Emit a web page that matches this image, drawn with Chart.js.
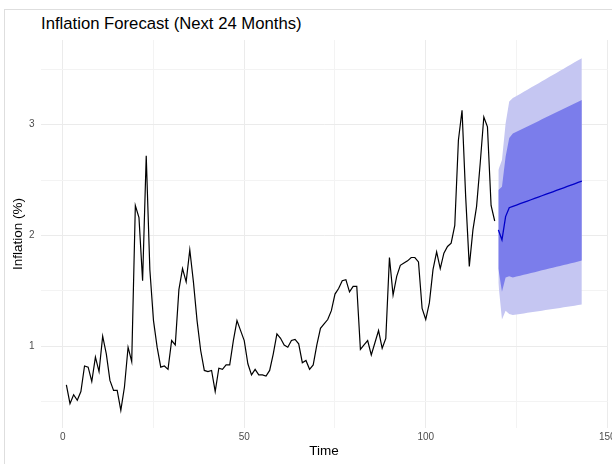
<!DOCTYPE html>
<html>
<head>
<meta charset="utf-8">
<script src="https://cdn.jsdelivr.net/npm/chart.js@4/dist/chart.umd.min.js"></script>
<style>
  html, body { margin: 0; padding: 0; background: #ffffff; }
  #wrap { position: relative; width: 612px; height: 464px; overflow: hidden; }
  #frame { position: absolute; left: 4px; top: 9px; right: -2px; bottom: -2px;
           border-top: 1px solid #dedede; border-left: 1px solid #dedede; }
  #title { position: absolute; left: 41px; top: 16px; font-family: "Liberation Sans", Arial, sans-serif;
           font-size: 16.7px; line-height: 1; color: #000; white-space: nowrap; }
  canvas { position: absolute; left: 0; top: 0; }
</style>
</head>
<body>
<div id="wrap">
  <div id="frame"></div>
  <div id="title">Inflation Forecast (Next 24 Months)</div>
  <canvas id="c" width="612" height="464"></canvas>
</div>
<script>
// ---- data ----
const historyStart = 1;
const historyValues = [
  0.65, 0.48, 0.56, 0.51, 0.59, 0.82, 0.81, 0.68, 0.90, 0.77,
  1.09, 0.93, 0.69, 0.60, 0.60, 0.42, 0.63, 0.99, 0.86, 2.27,
  2.16, 1.59, 2.72, 1.69, 1.23, 0.99, 0.81, 0.82, 0.79, 1.05,
  1.01, 1.51, 1.70, 1.58, 1.87, 1.58, 1.23, 0.96, 0.78, 0.77,
  0.78, 0.59, 0.80, 0.79, 0.83, 0.83, 1.05, 1.23, 1.14, 1.05,
  0.84, 0.74, 0.79, 0.74, 0.74, 0.73, 0.78, 0.93, 1.11, 1.07,
  1.01, 0.99, 1.05, 1.06, 1.02, 0.85, 0.87, 0.79, 0.83, 1.01,
  1.16, 1.20, 1.24, 1.32, 1.47, 1.52, 1.59, 1.60, 1.49, 1.54,
  1.54, 0.97, 1.01, 1.05, 0.92, 1.03, 1.14, 0.98, 1.07, 1.80,
  1.46, 1.63, 1.73, 1.75, 1.77, 1.80, 1.80, 1.76, 1.34, 1.24,
  1.39, 1.69, 1.85, 1.70, 1.84, 1.90, 1.93, 2.09, 2.86, 3.13,
  2.35, 1.72, 2.05, 2.26, 2.65, 3.07, 2.98, 2.27, 2.13
];
const forecastStart = 120;
const forecastMean = [
  2.050, 1.960, 2.170, 2.250, 2.262, 2.274, 2.286, 2.298, 2.310, 2.322,
  2.334, 2.346, 2.358, 2.370, 2.382, 2.394, 2.406, 2.418, 2.430, 2.442,
  2.454, 2.466, 2.478, 2.490
];
const lower80 = [
  1.700, 1.490, 1.620, 1.630, 1.620, 1.628, 1.636, 1.644, 1.652, 1.660,
  1.668, 1.676, 1.684, 1.692, 1.700, 1.708, 1.716, 1.724, 1.732, 1.740,
  1.748, 1.756, 1.764, 1.772
];
const upper80 = [
  2.410, 2.440, 2.710, 2.880, 2.920, 2.936, 2.952, 2.968, 2.984, 3.000,
  3.016, 3.032, 3.048, 3.064, 3.080, 3.096, 3.112, 3.128, 3.144, 3.160,
  3.176, 3.192, 3.208, 3.224
];
const lower95 = [
  1.570, 1.240, 1.320, 1.290, 1.280, 1.285, 1.290, 1.295, 1.300, 1.305,
  1.310, 1.315, 1.320, 1.325, 1.330, 1.335, 1.340, 1.345, 1.350, 1.355,
  1.360, 1.365, 1.370, 1.375
];
const upper95 = [
  2.590, 2.680, 3.010, 3.210, 3.240, 3.259, 3.278, 3.297, 3.316, 3.335,
  3.354, 3.373, 3.392, 3.411, 3.430, 3.449, 3.468, 3.487, 3.506, 3.525,
  3.544, 3.563, 3.582, 3.600
];
const xTickLabels = [0, 50, 100, 150];
const yTickLabels = [1, 2, 3];

// ---- build points ----
const pts = (arr, start) => arr.map((v, i) => ({ x: start + i, y: v }));

const fontFam = '"Liberation Sans", Arial, sans-serif';
const LIGHT = '#c5c6f2';
const DARK = '#7b7deb';

new Chart(document.getElementById('c'), {
  type: 'line',
  data: {
    datasets: [
      { data: pts(lower95, forecastStart), borderWidth: 0, pointRadius: 0, fill: false, order: 6, tension: 0 },
      { data: pts(upper95, forecastStart), borderWidth: 0, pointRadius: 0, fill: 0, backgroundColor: LIGHT, order: 5, tension: 0 },
      { data: pts(lower80, forecastStart), borderWidth: 0, pointRadius: 0, fill: false, order: 4, tension: 0 },
      { data: pts(upper80, forecastStart), borderWidth: 0, pointRadius: 0, fill: 2, backgroundColor: DARK, order: 3, tension: 0 },
      { data: pts(forecastMean, forecastStart), borderColor: '#0000c8', borderWidth: 1.3, pointRadius: 0, fill: false, order: 2, tension: 0 },
      { data: pts(historyValues, historyStart), borderColor: '#000000', borderWidth: 1.2, pointRadius: 0, fill: false, order: 1, tension: 0 }
    ]
  },
  options: {
    responsive: false,
    animation: false,
    devicePixelRatio: 1,
    layout: { padding: { top: 40, left: 0, right: 4.4, bottom: 0 } },
    plugins: { legend: { display: false }, tooltip: { enabled: false }, title: { display: false } },
    scales: {
      x: {
        type: 'linear',
        min: -6.1, max: 150.1,
        border: { display: false },
        grid: {
          drawTicks: false,
          color: (c) => (xTickLabels.includes(c.tick.value) ? '#ebebeb' : '#f3f3f3'),
          lineWidth: 1
        },
        ticks: {
          stepSize: 25, includeBounds: false, autoSkip: false, maxRotation: 0,
          padding: 3.5,
          color: '#4d4d4d',
          font: { family: fontFam, size: 10 },
          callback: (v) => (xTickLabels.includes(v) ? String(v) : '')
        },
        title: { display: true, text: 'Time', color: '#000', font: { family: fontFam, size: 13.5 }, padding: { top: 0, bottom: 4.4 } },
        afterFit: (s) => { s.height = 36; s.paddingLeft = 0; s.paddingRight = 0; }
      },
      y: {
        type: 'linear',
        min: 0.26, max: 3.765,
        border: { display: false },
        grid: {
          drawTicks: false,
          color: (c) => (yTickLabels.includes(c.tick.value) ? '#ebebeb' : '#f3f3f3'),
          lineWidth: 1
        },
        ticks: {
          stepSize: 0.5, includeBounds: false, autoSkip: false,
          padding: 6,
          color: '#4d4d4d',
          font: { family: fontFam, size: 10 },
          callback: (v) => (yTickLabels.includes(v) ? String(v) : '')
        },
        title: { display: true, text: 'Inflation (%)', color: '#000', font: { family: fontFam, size: 13.5 }, padding: { top: 9.7, bottom: 0 } },
        afterFit: (s) => { s.width = 40.6; s.paddingTop = 0; s.paddingBottom = 0; }
      }
    }
  }
});
</script>
</body>
</html>
